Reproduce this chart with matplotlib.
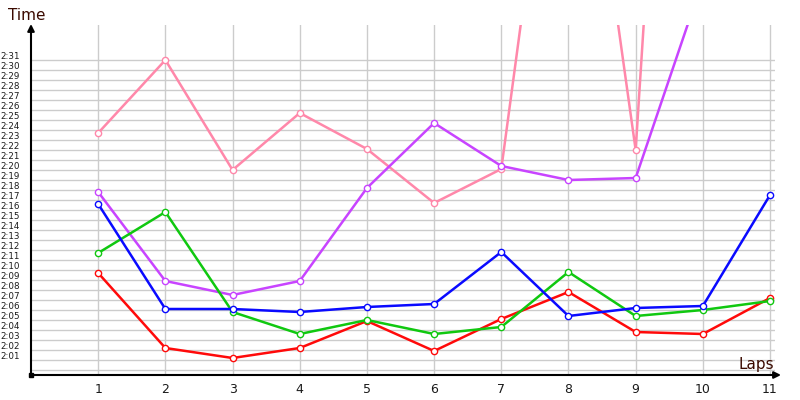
import numpy as np
import matplotlib
matplotlib.use('Agg')
import matplotlib.pyplot as plt
from matplotlib.transforms import ScaledTranslation

# lap times in seconds (nan = not shown)
laps = list(range(1, 12))
red = [129.7, 122.2, 121.2, 122.2, 124.9, 121.9, 125.1, 127.8, 123.8, 123.6, 127.2]
green = [131.7, 135.8, 125.8, 123.6, 125.0, 123.6, 124.3, 129.8, 125.4, 126.0, 126.9]
blue = [136.6, 126.1, 126.1, 125.8, 126.3, 126.6, 131.8, 125.4, 126.2, 126.4, 137.5]
purple = [137.8, 128.9, 127.5, 128.9, 138.2, 144.7, 140.4, 139.0, 139.2, 159.0, np.nan]
pink = [143.7, 151.0, 140.0, 145.7, 142.1, 136.7, 140.1, 190.0, 142.0, 247.0, np.nan]

series = [(pink, '#ff88aa'), (purple, '#c844ff'), (red, '#ff0a0a'),
          (green, '#10c810'), (blue, '#0a0aff')]

y_ticks = list(range(120, 152))
y_labels = ['' if t == 120 else '%d:%02d' % (t // 60, t % 60) for t in y_ticks]


fig = plt.figure(figsize=(8, 4), dpi=100)
ax = fig.add_axes([31 / 800, 25 / 400, 744 / 800, 350 / 400])
ax.set_xlim(0, 11.074)
ax.set_ylim(119.5, 154.5)

for vals, c in series:
    ax.plot(laps, vals, color=c, lw=1.8, marker='o', ms=4.5,
            mfc='white', mec=c, mew=1.0)

ax.set_xticks(laps)
ax.set_yticks(y_ticks, y_labels)
ax.tick_params(length=0)
ax.tick_params(axis='y', labelsize=6.3, pad=8, labelcolor='#1a1a1a')
ax.tick_params(axis='x', labelsize=9, pad=6, labelcolor='#1a1a1a')
offset = ScaledTranslation(0, 3 / 72, fig.dpi_scale_trans)
for lbl in ax.get_yticklabels():
    lbl.set_transform(lbl.get_transform() + offset)

ax.grid(color='#cccccc', lw=1)
ax.set_axisbelow(True)
for s in ax.spines.values():
    s.set_visible(False)

# axis arrows
arrow = dict(arrowstyle='-|>', color='black', lw=1.5, mutation_scale=10, shrinkA=0, shrinkB=0)
ax.annotate('', xy=(781, 25), xytext=(31, 25), xycoords='figure pixels', arrowprops=arrow)
ax.annotate('', xy=(31, 376), xytext=(31, 25), xycoords='figure pixels', arrowprops=arrow)
ax.plot([0], [119.5], 's', color='black', ms=3, clip_on=False)

fig.text(8 / 800, 385 / 400, 'Time', fontsize=11, color='#3b0a00', va='center')
fig.text(774 / 800, 36 / 400, 'Laps', fontsize=11, color='#3b0a00', ha='right', va='center')

fig.savefig('out.png', dpi=100)
